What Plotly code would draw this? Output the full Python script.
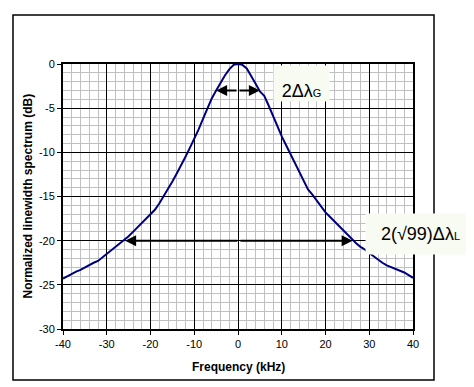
import plotly.graph_objects as go

freq_khz = list(range(-40, 41))
level_db = [
    -24.3, -24.0, -23.8, -23.5, -23.3, -23.0, -22.8, -22.5, -22.3, -21.9,
    -21.6, -21.1, -20.8, -20.4, -19.9, -19.5, -19.0, -18.5, -18.0, -17.6,
    -17.1, -16.5, -15.8, -15.0, -14.2, -13.3, -12.4, -11.5, -10.5, -9.5,
    -8.5, -7.4, -6.2, -5.0, -3.9, -3.0, -2.1, -1.3, -0.6, -0.1,
    0.0,
    -0.1, -0.5, -1.3, -2.2, -3.1, -3.6, -4.7, -5.9, -7.0, -8.2,
    -9.2, -10.2, -11.2, -12.2, -13.2, -14.2, -14.8, -15.5, -16.2, -16.8,
    -17.3, -17.8, -18.4, -18.9, -19.4, -19.8, -20.3, -20.7, -21.0, -21.4,
    -21.8, -22.2, -22.5, -22.8, -23.0, -23.2, -23.4, -23.6, -23.9, -24.2,
]

x_ticks = [-40, -30, -20, -10, 0, 10, 20, 30, 40]
y_ticks = [0, -5, -10, -15, -20, -25, -30]

gauss_arrow = [-5.0, 5.0, -3.0]      # left end, right end, level
lorentz_arrow = [-25.8, 26.2, -20.0]

fig = go.Figure()
fig.add_trace(go.Scatter(x=freq_khz, y=level_db, mode="lines",
                         line=dict(color="#00007f", width=2), showlegend=False))

OFF = 8  # page body margin
W, H = 474 - OFF, 387 - OFF
L, R, T, B = 63 - OFF, 413 - OFF, 64 - OFF, 329 - OFF
pw, ph = R - L, B - T

def px(xp):
    return (xp - OFF - L) / pw

def py(yp):
    return (B - (yp - OFF)) / ph

axis_common = dict(showline=True, mirror=True, linecolor="black", linewidth=2,
                   gridcolor="black", gridwidth=1, zeroline=False,
                   ticks="outside", ticklen=4, tickcolor="black", tickwidth=1,
                   tickfont=dict(family="Liberation Sans, Arial", size=11, color="black"))

fig.update_xaxes(range=[-40, 40], tickvals=x_ticks, ticktext=[str(v) for v in x_ticks],
                 minor=dict(dtick=2, tick0=0, showgrid=True, gridcolor="#c0c0c0",
                            gridwidth=1, ticks=""),
                 **axis_common)
fig.update_yaxes(range=[-30, 0], tickvals=y_ticks, ticktext=[str(v) for v in y_ticks],
                 minor=dict(dtick=1, tick0=0, showgrid=True, gridcolor="#c0c0c0",
                            gridwidth=1, ticks=""),
                 **axis_common)

anns = []
for arr in (gauss_arrow, lorentz_arrow):
    mid = (arr[0] + arr[1]) / 2
    for end in (arr[0], arr[1]):
        anns.append(dict(x=end, y=arr[2], ax=mid, ay=arr[2], xref="x", yref="y",
                         axref="x", ayref="y", showarrow=True, arrowhead=2,
                         arrowsize=1.1, arrowwidth=2, arrowcolor="black", text=""))

anns.append(dict(xref="paper", yref="paper", x=px(273), y=py(65), xanchor="left",
                 yanchor="top", showarrow=False, width=55, height=35, borderpad=0,
                 bgcolor="#f7fbf2", align="center", valign="bottom",
                 text='2Δλ<span style="font-size:11px">G</span>',
                 font=dict(family="Liberation Sans, Arial", size=18, color="black")))
anns.append(dict(xref="paper", yref="paper", x=px(365), y=py(213), xanchor="left",
                 yanchor="top", showarrow=False, width=109, height=40, borderpad=0,
                 bgcolor="#f7fbf2", align="center", valign="middle",
                 text='2(√99)Δλ<span style="font-size:11px">L</span>',
                 font=dict(family="Liberation Sans, Arial", size=18, color="black")))
anns.append(dict(xref="paper", yref="paper", x=px(27), y=0.5, showarrow=False,
                 xanchor="center", yanchor="middle",
                 textangle=-90, text="<b>Normalized linewidth spectrum (dB)</b>",
                 font=dict(family="Liberation Sans, Arial", size=12, color="black")))
anns.append(dict(xref="paper", yref="paper", x=0.5, y=py(367), showarrow=False,
                 xanchor="center", yanchor="middle",
                 text="<b>Frequency (kHz)</b>",
                 font=dict(family="Liberation Sans, Arial", size=12, color="black")))

fig.update_layout(
    width=W, height=H, margin=dict(l=L, r=W - R, t=T, b=H - B),
    paper_bgcolor="white", plot_bgcolor="white", annotations=anns,
    shapes=[dict(type="rect", xref="paper", yref="paper", x0=px(13), x1=px(434),
                 y0=py(380), y1=py(15), line=dict(color="black", width=1.5),
                 layer="below")],
)

fig.write_html("out.html")
